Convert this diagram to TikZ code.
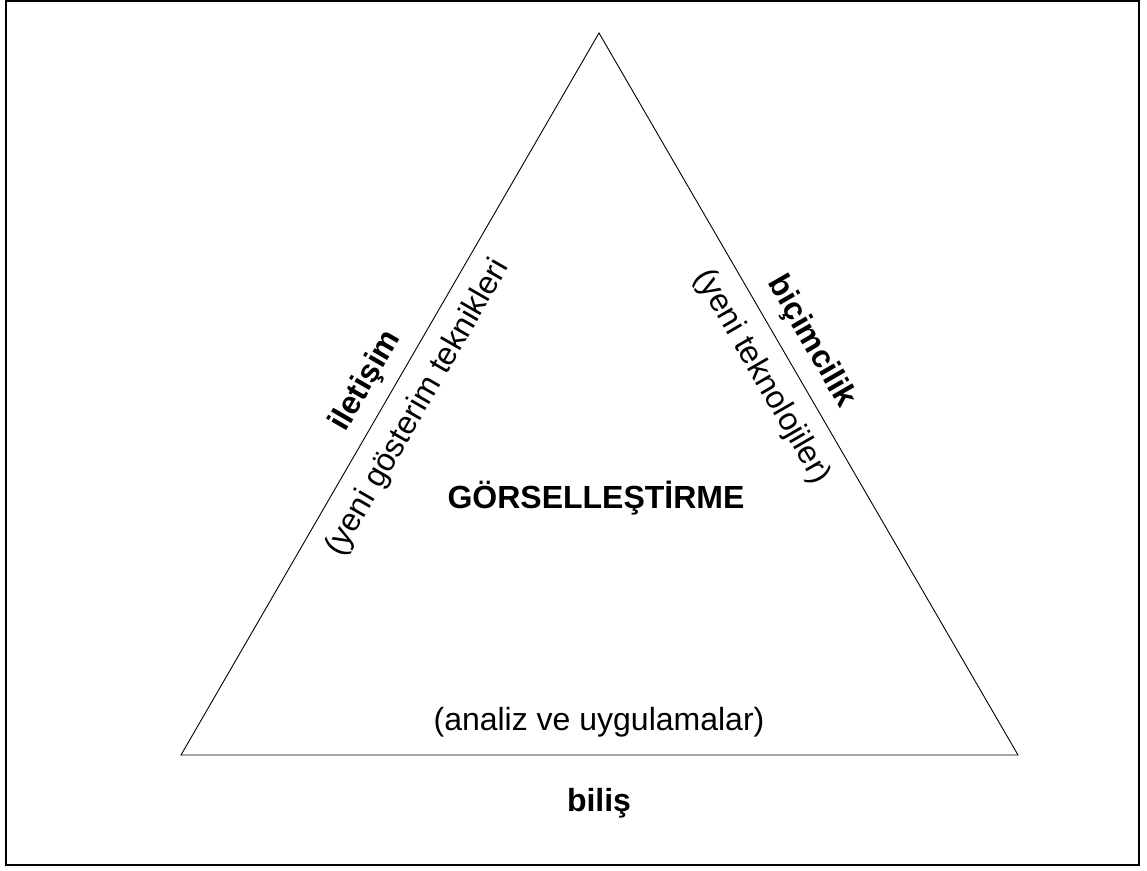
\documentclass[tikz,border=0pt]{standalone}
\usepackage{fontspec}
\setmainfont{Liberation Sans}
\usetikzlibrary{calc}
\begin{document}
\begin{tikzpicture}[x=1pt,y=-1pt,
  side/.style={draw=black, line width=0.9pt},
  lab/.style={font=\fontsize{32}{38}\selectfont, inner sep=0pt},
  blab/.style={font=\fontsize{32}{38}\selectfont\bfseries, inner sep=0pt}]
\useasboundingbox (0,0) rectangle (1147,870);
\fill[white] (0,0) rectangle (1147,870);
\node[draw=black, line width=1.6pt, minimum width=1133pt, minimum height=864pt, inner sep=0pt, anchor=north west] (frame) at (5,0) {};
\coordinate (A) at (181,755);
\coordinate (B) at (599,33);
\coordinate (C) at (1018,755);
\draw[side, line join=miter] (A) -- (B) -- (C) -- cycle;
\node[blab, rotate=60] (ilet) at (366,381) {iletişim};
\node[lab, rotate=60] (yenig) at (418,408) {(yeni gösterim teknikleri};
\node[blab, rotate=-60] (bicim) at (811,342) {biçimcilik};
\node[lab, rotate=-60] (yenit) at (762,377) {(yeni teknolojiler)};
\node[blab] (gors) at (596,498) {GÖRSELLEŞTİRME};
\node[lab] (anal) at (599,722) {(analiz ve uygulamalar)};
\node[blab] (bilis) at (599,803) {biliş};
\end{tikzpicture}
\end{document}
